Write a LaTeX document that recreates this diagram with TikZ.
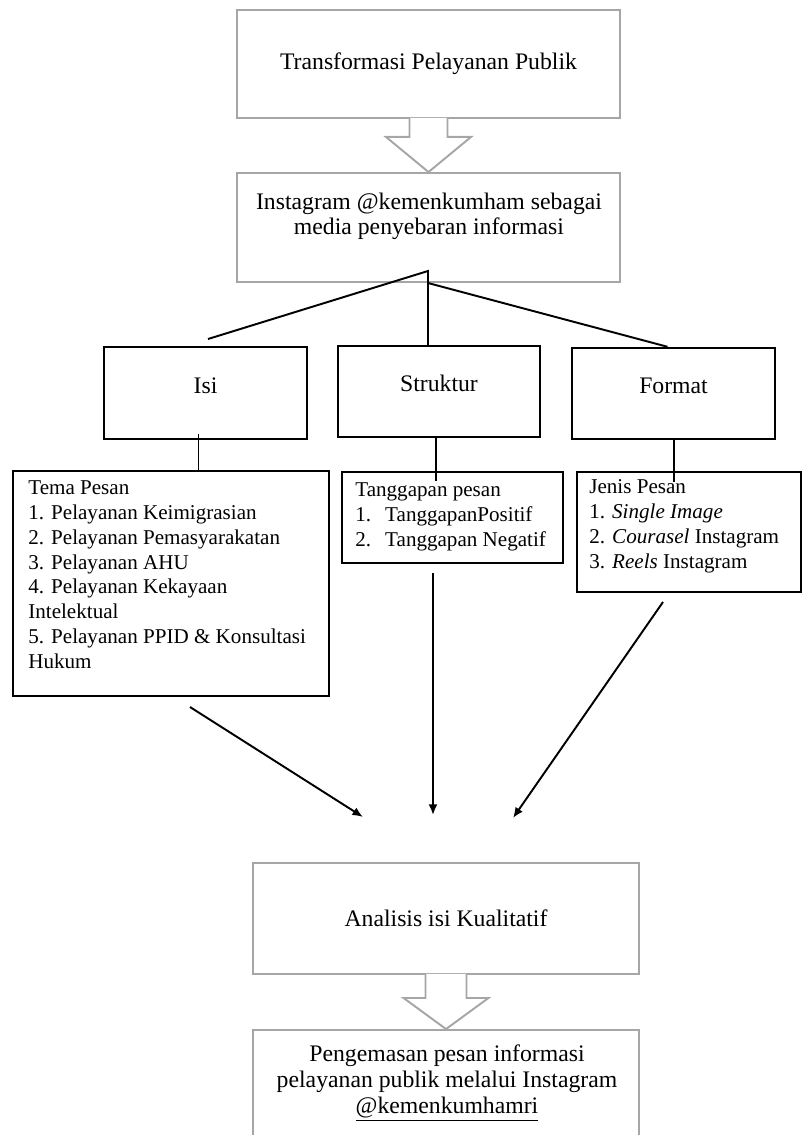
\documentclass[tikz,border=0pt]{standalone}
\usepackage{fontspec}
\setmainfont{Liberation Serif}
\usetikzlibrary{calc,arrows.meta}
\definecolor{framegrey}{HTML}{A6A6A6}
\newcommand{\bigfont}{\fontsize{13.5}{14.2}\selectfont}
\newcommand{\listfont}{\fontsize{12}{14.2}\selectfont}
\tikzset{
  greybox/.style={draw=framegrey, line width=1.1pt, inner sep=0pt, font=\bigfont},
  blackbox/.style={draw, line width=1.1pt, inner sep=0pt},
  catbox/.style={blackbox, minimum width=4.05cm, minimum height=1.83cm,
    font=\bigfont, text height=9pt, text depth=9pt},
  boxtext/.style={inner sep=0pt, align=center, font=\bigfont},
  listtext/.style={anchor=north west, inner sep=0pt, align=left, font=\listfont},
  hollow/.style={draw=framegrey, line width=1.1pt, fill=white},
  link/.style={line width=1.1pt},
  pointer/.style={link, -{Latex[length=6pt,width=5pt]}}
}

\begin{document}
\begin{tikzpicture}[x=0.02cm, y=-0.02cm]
  \clip (0,0) rectangle (803,1135);

  % top
  \node[greybox, minimum width=7.66cm, minimum height=2.16cm] (trans) at (428.5,64) {Transformasi Pelayanan Publik};
  \node[greybox, minimum width=7.66cm, minimum height=2.18cm] (insta) at (428.5,227.5) {};
  \node[boxtext] (instatext) at (429,216) {Instagram @kemenkumham sebagai\\media penyebaran informasi};
  \draw[hollow] ($(trans.south)+(-19,-1)$) -- ++(0,19) -- ++(-23.5,0) -- (insta.north)
    -- ($(trans.south)+(42.5,18)$) -- ++(-23.5,0) -- ++(0,-19);

  % three aspects
  \node[catbox] (isi) at (205.5,393) {Isi};
  \node[catbox] (struktur) at (439,391.5) {Struktur};
  \node[catbox] (format) at (673.5,393.5) {Format};

  \coordinate (hub) at (428,271);
  \coordinate (isitop) at (208,339);
  \draw[link] (isitop) -- (hub) -- (hub |- struktur.north);
  \draw[link] ($(hub)+(0,12)$) -- ($(format.north)+(-6,0)$);

  % lists
  \node[blackbox, minimum width=6.32cm, minimum height=4.5cm] (isilist) at (171,583.5) {};
  \node[listtext] (isitext) at (28,480) {Tema Pesan\\
    1. Pelayanan Keimigrasian\\
    2. Pelayanan Pemasyarakatan\\
    3. Pelayanan AHU\\
    4. Pelayanan Kekayaan\\
    Intelektual\\
    5. Pelayanan PPID \& Konsultasi\\
    Hukum};
  \node[blackbox, minimum width=4.42cm, minimum height=1.82cm] (strlist) at (452.5,517.5) {};
  \node[listtext] (strtext) at (355,482) {Tanggapan pesan\\
    \makebox[17pt][l]{1.}TanggapanPositif\\
    \makebox[17pt][l]{2.}Tanggapan Negatif};
  \node[blackbox, minimum width=4.48cm, minimum height=2.4cm] (fmtlist) at (689,532) {};
  \node[listtext] (fmttext) at (589,479) {Jenis Pesan\\
    1. \textit{Single Image}\\
    2. \textit{Courasel} Instagram\\
    3. \textit{Reels} Instagram};

  \draw[link] ($(isi.south)+(-7,-6)$) -- ($(isi.south)+(-7,32)$);
  \draw[link] ($(struktur.south)+(-3,0)$) -- ($(struktur.south)+(-3,43)$);
  \draw[link] ($(format.south)+(0.5,0)$) -- ($(format.south)+(0.5,42)$);

  % towards analysis
  \coordinate (isifoot) at (190,707);
  \coordinate (isihead) at (363,817);
  \coordinate (strfoot) at (433,573);
  \coordinate (strhead) at (433,815);
  \coordinate (fmtfoot) at (663,602);
  \coordinate (fmthead) at (513,818);
  \draw[pointer] (isifoot) -- (isihead);
  \draw[pointer] (strfoot) -- (strhead);
  \draw[pointer] (fmtfoot) -- (fmthead);

  % bottom
  \node[greybox, minimum width=7.72cm, minimum height=2.22cm] (analisis) at (446,918.5) {Analisis isi Kualitatif};
  \node[greybox, minimum width=7.72cm, minimum height=2.6cm] (pengemasan) at (446,1095) {};
  \node[boxtext, font=\fontsize{13.5}{15}\selectfont] (pengtext) at (447,1083)
    {Pengemasan pesan informasi\\pelayanan publik melalui Instagram\\\underline{@kemenkumhamri}};
  \draw[hollow] ($(analisis.south)+(-20.5,-1)$) -- ++(0,24) -- ++(-22,0) -- (pengemasan.north)
    -- ($(analisis.south)+(42.5,23)$) -- ++(-22,0) -- ++(0,-24);
\end{tikzpicture}
\end{document}
